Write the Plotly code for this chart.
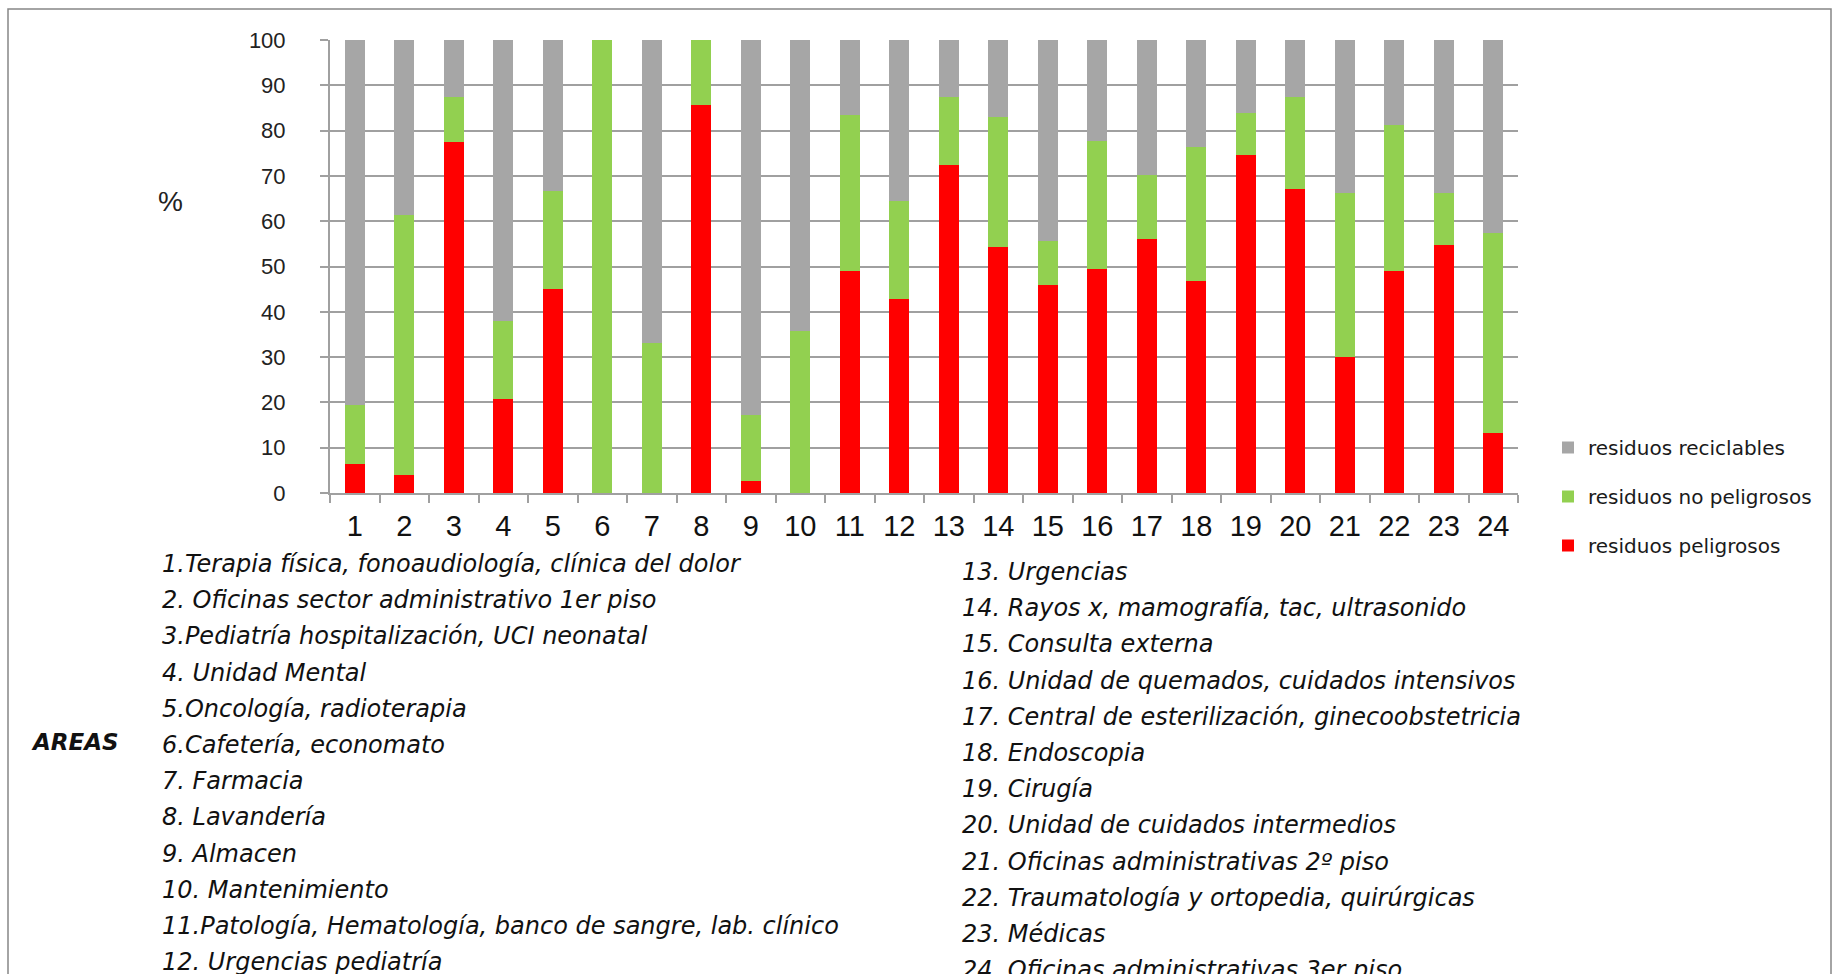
import plotly.graph_objects as go

# ---------------- data ----------------
areas = [str(i) for i in range(1, 25)]
peligrosos = [6.3, 4.0, 77.4, 20.8, 45.1, 0, 0, 85.7, 2.7, 0, 49.0, 42.9,
              72.4, 54.3, 46.0, 49.5, 56.1, 46.8, 74.6, 67.1, 30.0, 49.0, 54.8, 13.2]
no_peligrosos = [13.2, 57.4, 10.1, 17.2, 21.6, 100, 33.1, 14.3, 14.5, 35.8, 34.4, 21.6,
                 15.0, 28.8, 9.7, 28.2, 14.0, 29.6, 9.3, 20.3, 36.2, 32.3, 11.4, 44.2]
reciclables = [80.5, 38.6, 12.5, 62.0, 33.3, 0, 66.9, 0, 82.8, 64.2, 16.6, 35.5,
               12.6, 16.9, 44.3, 22.3, 29.9, 23.6, 16.1, 12.6, 33.8, 18.7, 33.8, 42.6]
series_names = ["residuos peligrosos", "residuos no peligrosos", "residuos reciclables"]
area_names_left = [
    "1.Terapia física, fonoaudiología, clínica del dolor",
    "2. Oficinas sector administrativo 1er piso",
    "3.Pediatría hospitalización, UCI neonatal",
    "4. Unidad Mental",
    "5.Oncología, radioterapia",
    "6.Cafetería, economato",
    "7. Farmacia",
    "8. Lavandería",
    "9. Almacen",
    "10. Mantenimiento",
    "11.Patología, Hematología, banco de sangre, lab. clínico",
    "12. Urgencias pediatría",
]
area_names_right = [
    "13. Urgencias",
    "14. Rayos x, mamografía, tac, ultrasonido",
    "15. Consulta externa",
    "16. Unidad de quemados, cuidados intensivos",
    "17. Central de esterilización, ginecoobstetricia",
    "18. Endoscopia",
    "19. Cirugía",
    "20. Unidad de cuidados intermedios",
    "21. Oficinas administrativas 2º piso",
    "22. Traumatología y ortopedia, quirúrgicas",
    "23. Médicas",
    "24. Oficinas administrativas 3er piso",
]

# ---------------- layout geometry (pixels) ----------------
W, H = 1834, 974
PL, PR, PT, PB = 330, 1518, 40, 493


def px(x):
    return (x - PL) / (PR - PL)


def py(y):
    return (PB - y) / (PB - PT)


colors = ["#FF0000", "#92D050", "#A6A6A6"]
ranks = [3, 2, 1]
fig = go.Figure()
for name, vals, col, rk in zip(series_names, [peligrosos, no_peligrosos, reciclables], colors, ranks):
    fig.add_trace(go.Bar(x=areas, y=vals, name=name, marker=dict(color=col, line=dict(width=0)),
                         legendgroup=name, legendrank=rk))

grid = "#A0A0A0"
fig.update_layout(
    width=W, height=H,
    margin=dict(l=PL, r=W - PR, t=PT, b=H - PB),
    barmode="stack", bargap=0.6,
    plot_bgcolor="white", paper_bgcolor="white",
    showlegend=True,
    legend=dict(x=px(1548), y=py(428), xanchor="left", yanchor="top",
                traceorder="grouped",
                font=dict(family="DejaVu Sans", size=20, color="#1a1a1a"),
                tracegroupgap=20, bgcolor="rgba(0,0,0,0)"),
    xaxis=dict(type="category", tickson="boundaries", ticks="outside", ticklen=8,
               tickcolor=grid, tickwidth=2, showline=True, linecolor=grid, linewidth=2,
               showgrid=False, tickfont=dict(family="Liberation Sans", size=29, color="#111111"),
               ticklabelstandoff=6),
    yaxis=dict(range=[0, 100], dtick=10, ticks="outside", ticklen=8, tickcolor=grid, tickwidth=2,
               showline=True, linecolor=grid, linewidth=2, showgrid=True, gridcolor=grid,
               gridwidth=2, zeroline=False,
               tickfont=dict(family="Liberation Sans", size=22, color="#222222"),
               ticklabelstandoff=30),
)

annotations = [
    dict(text="%", x=px(170), y=py(201), xref="paper", yref="paper", showarrow=False,
         xanchor="center", yanchor="middle",
         font=dict(family="Liberation Sans", size=28, color="#222222")),
    dict(text="<b><i>AREAS</i></b>", x=px(29), y=py(742), xref="paper", yref="paper",
         xanchor="left", yanchor="middle", showarrow=False,
         font=dict(family="DejaVu Sans", size=23, color="#111111")),
]
for i, t in enumerate(area_names_left):
    annotations.append(dict(text="<i>" + t + "</i>", x=px(160), y=py(564 + i * 36.2),
                            xref="paper", yref="paper", xanchor="left", yanchor="middle",
                            showarrow=False,
                            font=dict(family="DejaVu Sans", size=24, color="#111111")))
for i, t in enumerate(area_names_right):
    annotations.append(dict(text="<i>" + t + "</i>", x=px(960), y=py(572 + i * 36.2),
                            xref="paper", yref="paper", xanchor="left", yanchor="middle",
                            showarrow=False,
                            font=dict(family="DejaVu Sans", size=24, color="#111111")))
fig.update_layout(annotations=annotations)

fig.add_shape(type="rect", xref="paper", yref="paper",
              x0=px(8), x1=px(1831), y0=py(1000), y1=py(9),
              line=dict(color="#868686", width=1.5), fillcolor="rgba(0,0,0,0)", layer="below")

fig.write_html("out.html")
